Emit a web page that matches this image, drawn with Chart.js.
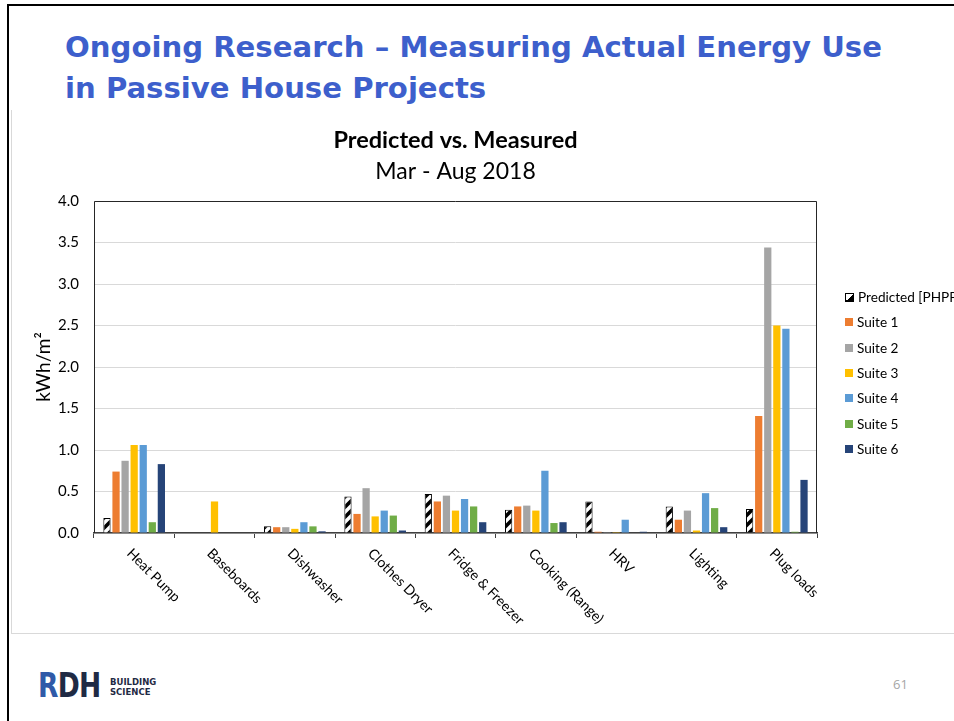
<!DOCTYPE html>
<html><head><meta charset="utf-8">
<script src="https://cdn.jsdelivr.net/npm/chart.js@4.4.0/dist/chart.umd.min.js"></script>
<style>
html,body{margin:0;padding:0;background:#fff;width:954px;height:721px;overflow:hidden;position:relative;}
#frameL{position:absolute;left:7px;top:4px;width:2px;height:717px;background:#000;}
#frameT{position:absolute;left:7px;top:4px;width:947px;height:2px;background:#000;}
#box{position:absolute;left:11px;top:110px;width:943px;height:523px;border-left:1px solid #d9d9d9;border-bottom:1px solid #d9d9d9;}
.ttl{position:absolute;left:65px;font-family:"DejaVu Sans";font-weight:bold;font-size:29px;line-height:29px;color:#3d5fcc;white-space:nowrap;transform-origin:0 0;}
#wrap{position:absolute;left:12px;top:110px;width:942px;height:523px;}
.lg{position:absolute;left:845px;height:14px;display:flex;align-items:center;font-family:Lato;font-size:13.6px;color:#000;white-space:nowrap;}
.sw{width:8px;height:8px;margin-right:4px;flex:none;}
#logo{position:absolute;left:38px;top:668px;font-family:"DejaVu Sans";font-weight:bold;font-size:34px;line-height:34px;color:#1f2a44;letter-spacing:-1px;transform:scaleX(0.78);transform-origin:0 0;}
#logo2{position:absolute;left:110px;top:677px;font-family:"DejaVu Sans";font-weight:bold;font-size:8.5px;line-height:10px;color:#1f2a44;}
#pg{position:absolute;left:893px;top:675px;font-family:"Open Sans";font-size:13px;color:#a6a6a6;}
</style></head>
<body>
<div id="frameL"></div><div id="frameT"></div>
<div class="ttl" id="t1" style="top:33px">Ongoing Research – Measuring Actual Energy Use</div>
<div class="ttl" id="t2" style="top:74px">in Passive House Projects</div>
<div id="box"></div>
<div id="wrap"><canvas id="c" width="942" height="523"></canvas></div>
<div id="legend"></div>
<div id="logo"><span style="color:#2f5aa8">R</span><span style="color:#1f2a44">D</span><span style="color:#1f2a44">H</span></div>
<div id="logo2">BUILDING<br>SCIENCE</div>
<div id="pg">61</div>
<script>
const categories = ['Heat Pump','Baseboards','Dishwasher','Clothes Dryer','Fridge & Freezer','Cooking (Range)','HRV','Lighting','Plug loads'];
const seriesLabels = ['Predicted [PHPP]','Suite 1','Suite 2','Suite 3','Suite 4','Suite 5','Suite 6'];
const predicted = [0.18, 0,    0.08, 0.44, 0.47, 0.28, 0.38,  0.32, 0.29];
const suite1    = [0.74, 0,    0.07, 0.23, 0.38, 0.32, 0.015, 0.16, 1.41];
const suite2    = [0.87, 0,    0.07, 0.54, 0.45, 0.33, 0.01,  0.27, 3.44];
const suite3    = [1.06, 0.38, 0.05, 0.20, 0.27, 0.27, 0.01,  0.03, 2.50];
const suite4    = [1.06, 0,    0.13, 0.27, 0.41, 0.75, 0.16,  0.48, 2.46];
const suite5    = [0.13, 0,    0.08, 0.21, 0.32, 0.12, 0,     0.30, 0.015];
const suite6    = [0.83, 0,    0.02, 0.03, 0.13, 0.13, 0.015, 0.07, 0.64];
const yTickValues = [0, 0.5, 1.0, 1.5, 2.0, 2.5, 3.0, 3.5, 4.0];
const seriesColors = ['pattern','#ED7D31','#A5A5A5','#FFC000','#5B9BD5','#70AD47','#264478'];

// title width fit
(function(){
  const t1=document.getElementById('t1'), t2=document.getElementById('t2');
  const s = 817 / t1.offsetWidth;
  t1.style.transform='scaleX('+s+')'; t2.style.transform='scaleX('+s+')';
})();

function makePattern(){
  const c=document.createElement('canvas'); c.width=10; c.height=10;
  const x=c.getContext('2d'); x.fillStyle='#fff'; x.fillRect(0,0,10,10);
  x.strokeStyle='#000'; x.lineWidth=3.6;
  x.beginPath(); x.moveTo(-5,5); x.lineTo(5,-5); x.moveTo(0,10); x.lineTo(10,0); x.moveTo(5,15); x.lineTo(15,5); x.stroke();
  return x.createPattern(c,'repeat');
}
const ctx=document.getElementById('c').getContext('2d');
const pat=makePattern();
const allSeries=[predicted,suite1,suite2,suite3,suite4,suite5,suite6];
const datasets=allSeries.map((d,i)=>({
  label: seriesLabels[i],
  data: d,
  backgroundColor: i===0 ? pat : seriesColors[i],
  borderColor: i===0 ? '#000' : seriesColors[i],
  borderWidth: i===0 ? 1 : 0,
  categoryPercentage: 0.79,
  barPercentage: 0.8
}));

// HTML legend built from series arrays
const lg=document.getElementById('legend');
seriesLabels.forEach((l,i)=>{
  const d=document.createElement('div'); d.className='lg';
  d.style.top=(297 + i*25.3 - 7)+'px';
  const sw=document.createElement('span'); sw.className='sw';
  if(i===0){ sw.style.background='linear-gradient(to bottom right,#fff 50%,#000 50%)'; sw.style.border='1px solid #000'; sw.style.width='7px'; sw.style.height='7px'; }
  else sw.style.background=seriesColors[i];
  d.appendChild(sw); d.appendChild(document.createTextNode(l)); lg.appendChild(d);
});

const frame={id:'frame',afterDatasetsDraw(ch){
  const a=ch.chartArea, c=ch.ctx; c.save(); c.strokeStyle='#262626'; c.lineWidth=1;
  c.beginPath(); c.moveTo(Math.round(a.left)+0.5,a.bottom); c.lineTo(Math.round(a.left)+0.5,Math.round(a.top)+0.5);
  c.lineTo(Math.round(a.right)-0.5,Math.round(a.top)+0.5); c.lineTo(Math.round(a.right)-0.5,a.bottom); c.stroke(); c.restore();
}};
const xlabels={id:'xlabels',afterDraw(ch){
  const xs=ch.scales.x, a=ch.chartArea, c=ch.ctx; c.save();
  c.font='14px Lato'; c.fillStyle='#000'; c.textAlign='left'; c.textBaseline='middle';
  categories.forEach((lab,i)=>{
    const x=xs.getPixelForValue(i);
    c.save(); c.translate(x-5, a.bottom+18); c.rotate(Math.PI/4); c.fillText(lab,0,0); c.restore();
  });
  c.restore();
}};

new Chart(ctx,{
  type:'bar',
  data:{labels:categories,datasets},
  plugins:[frame,xlabels],
  options:{
    responsive:false, animation:false,
    layout:{padding:{left:16,right:137,top:0,bottom:0}},
    plugins:{
      legend:{display:false}, tooltip:{enabled:false},
      title:{display:true,text:'Predicted vs. Measured',fullSize:false,color:'#000',font:{family:'Lato',size:23.5,weight:'bold',lineHeight:1.2},padding:{top:15.9,bottom:0}},
      subtitle:{display:true,text:'Mar - Aug 2018',fullSize:false,color:'#000',font:{family:'Lato',size:23,lineHeight:1.2},padding:{top:4.1,bottom:15.2}}
    },
    scales:{
      x:{
        offset:true,
        grid:{display:true,offset:true,drawOnChartArea:false,drawTicks:true,tickLength:5,color:'#404040'},
        border:{display:true,color:'#404040',width:1.5},
        ticks:{display:false},
        afterFit(s){ s.height=100; }
      },
      y:{
        min:0,max:4,
        afterBuildTicks(s){ s.ticks = yTickValues.map(v=>({value:v})); },
        ticks:{padding:15,color:'#000',font:{family:'Lato',size:15},callback:v=>v.toFixed(1)},
        grid:{color:'#d9d9d9',drawTicks:false,lineWidth:1},
        border:{display:false},
        title:{display:true,text:'kWh/m²',color:'#000',font:{family:'Lato',size:19},padding:{top:4,bottom:4}},
        afterFit(s){ s.width=66; }
      }
    }
  }
});
</script>
</body></html>
